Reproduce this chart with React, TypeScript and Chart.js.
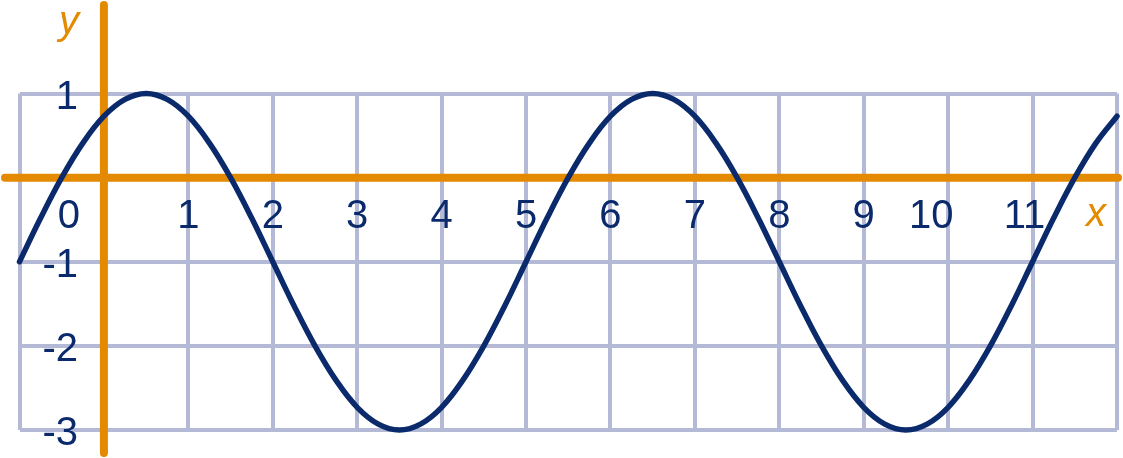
import React, { useEffect, useRef } from 'react';
import { Chart, registerables } from 'chart.js';

Chart.register(...registerables);

// curve samples
const xValues = [
  -1, -0.75, -0.5, -0.25, 0, 0.25, 0.5, 0.75, 1, 1.25, 1.5, 1.75, 2, 2.25, 2.5, 2.75,
  3, 3.25, 3.5, 3.75, 4, 4.25, 4.5, 4.75, 5, 5.25, 5.5, 5.75, 6, 6.25, 6.5, 6.75,
  7, 7.25, 7.5, 7.75, 8, 8.25, 8.5, 8.75, 9, 9.25, 9.5, 9.75, 10, 10.25, 10.5, 10.75,
  11, 11.25, 11.5, 11.75, 12,
];
const yValues = [
  -1, -0.48, 0, 0.41, 0.73, 0.93, 1, 0.93, 0.73, 0.41, 0, -0.48,
  -1, -1.52, -2, -2.41, -2.73, -2.93, -3, -2.93, -2.73, -2.41, -2, -1.52,
  -1, -0.48, 0, 0.41, 0.73, 0.93, 1, 0.93, 0.73, 0.41, 0, -0.48,
  -1, -1.52, -2, -2.41, -2.73, -2.93, -3, -2.93, -2.73, -2.41, -2, -1.52,
  -1, -0.48, 0, 0.41, 0.73,
];

const xTickValues = [0, 1, 2, 3, 4, 5, 6, 7, 8, 9, 10, 11];
const xTickLabels = ['0', '1', '2', '3', '4', '5', '6', '7', '8', '9', '10', '11'];
const yTickValues = [1, -1, -2, -3];
const yTickLabels = ['1', '-1', '-2', '-3'];
const xAxisName = 'x';
const yAxisName = 'y';

const NAVY = '#0a2a6c';
const ORANGE = '#e38a00';
const GRID = '#b4b9d6';
const FONT = '"Liberation Sans", Arial, Helvetica, sans-serif';

// a few x labels sit beside their grid line in the original
const xLabelShift: Record<string, number> = { '0': -35, '10': -17, '11': -8 };

const axesPlugin = {
  id: 'axesAndLabels',
  beforeDatasetsDraw(chart: any) {
    const { ctx, scales } = chart;
    const xs = scales.x;
    const ys = scales.y;
    const x0 = xs.getPixelForValue(0);
    const y0 = ys.getPixelForValue(0);
    ctx.save();
    ctx.strokeStyle = ORANGE;
    ctx.lineWidth = 8;
    ctx.lineCap = 'round';
    ctx.beginPath();
    ctx.moveTo(5, y0);
    ctx.lineTo(chart.width - 5, y0);
    ctx.stroke();
    ctx.beginPath();
    ctx.moveTo(x0, 5);
    ctx.lineTo(x0, chart.height - 5);
    ctx.stroke();

    ctx.fillStyle = NAVY;
    ctx.font = `40px ${FONT}`;
    ctx.textBaseline = 'alphabetic';
    ctx.textAlign = 'center';
    xTickValues.forEach((v, i) => {
      const lbl = xTickLabels[i];
      ctx.fillText(lbl, xs.getPixelForValue(v) + (xLabelShift[lbl] || 0), y0 + 50);
    });
    ctx.textAlign = 'right';
    const left = chart.chartArea.left;
    yTickValues.forEach((v, i) => {
      ctx.fillText(yTickLabels[i], left + 58.5, ys.getPixelForValue(v) + 15);
    });

    ctx.fillStyle = ORANGE;
    ctx.font = `italic 40px ${FONT}`;
    ctx.textAlign = 'center';
    ctx.fillText(xAxisName, chart.chartArea.right - 21, y0 + 48);
    ctx.fillText(yAxisName, x0 - 35, 34);
    ctx.restore();
  },
};

export default function App() {
  const canvasRef = useRef<HTMLCanvasElement | null>(null);

  useEffect(() => {
    if (!canvasRef.current) return;
    const points = xValues.map((x, i) => ({ x, y: yValues[i] }));
    const chart = new Chart(canvasRef.current, {
      type: 'scatter',
      data: {
        datasets: [
          {
            data: points,
            showLine: true,
            borderColor: NAVY,
            backgroundColor: NAVY,
            borderWidth: 5.5,
            borderCapStyle: 'round',
            borderJoinStyle: 'round',
            tension: 0.4,
            pointRadius: 0,
            pointHoverRadius: 0,
            clip: false,
          } as any,
        ],
      },
      options: {
        responsive: false,
        devicePixelRatio: 1,
        animation: false,
        events: [],
        layout: { padding: { left: 19.5, right: 6, top: 93.5, bottom: 28 } },
        plugins: {
          legend: { display: false },
          tooltip: { enabled: false },
        },
        scales: {
          x: {
            type: 'linear',
            min: -1,
            max: 12,
            ticks: { display: false, stepSize: 1 },
            grid: { color: GRID, lineWidth: 4, drawTicks: false },
            border: { display: false },
          },
          y: {
            type: 'linear',
            min: -3,
            max: 1,
            ticks: { display: false, stepSize: 1 },
            grid: { color: GRID, lineWidth: 4, drawTicks: false },
            border: { display: false },
          },
        },
      },
      plugins: [axesPlugin],
    });
    return () => chart.destroy();
  }, []);

  return (
    <div style={{ position: 'fixed', left: 0, top: 0, width: 1123, height: 458, background: '#fff' }}>
      <canvas ref={canvasRef} width={1123} height={458} style={{ display: 'block' }} />
    </div>
  );
}
